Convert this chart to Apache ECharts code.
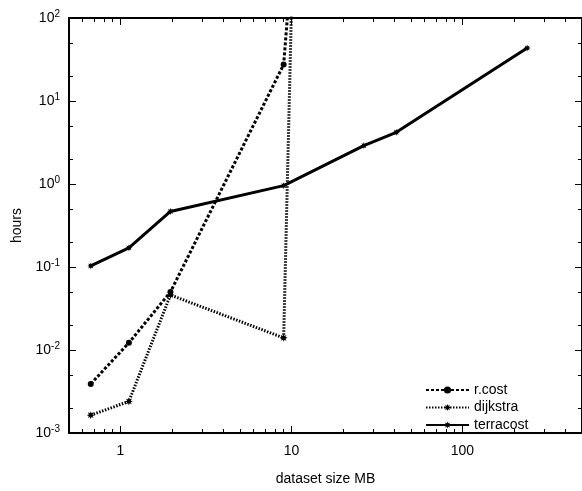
<!DOCTYPE html>
<html>
<head>
<meta charset="utf-8">
<script src="https://cdn.jsdelivr.net/npm/echarts@6/dist/echarts.min.js"></script>
<style>
html,body{margin:0;padding:0;background:#fff;}
#chart{width:582px;height:491px;}
</style>
</head>
<body>
<div id="chart"></div>
<script>
// ---- data ----
var rcostX = [0.67, 1.12, 1.96, 9.0, 10.0];
var rcostY = [0.0039, 0.0122, 0.050, 27.5, 420];
var dijkstraX = [0.67, 1.12, 1.96, 9.0, 10.0];
var dijkstraY = [0.00164, 0.0024, 0.046, 0.014, 130];
var terracostX = [0.67, 1.12, 1.96, 9.0, 26.5, 41, 239];
var terracostY = [0.103, 0.17, 0.467, 0.955, 2.9, 4.2, 43.5];
var seriesNames = ['r.cost', 'dijkstra', 'terracost'];
var xMajorTicks = [1, 10, 100];
var xMinorTicks = [0.6, 0.7, 0.8, 0.9, 2, 3, 4, 5, 6, 7, 8, 9, 20, 30, 40, 50, 60, 70, 80, 90, 200, 300, 400];
var yMajorTicks = [0.001, 0.01, 0.1, 1, 10, 100];
var yMinorTicks = [0.002, 0.005, 0.02, 0.05, 0.2, 0.5, 2, 5, 20, 50];
var xRange = [0.5, 500];
var yRange = [0.001, 100];

function pairs(xs, ys) { return xs.map(function (x, i) { return [x, ys[i]]; }); }

function starPath(n, r1, r2) {
  var s = 'path://';
  for (var i = 0; i < 2 * n; i++) {
    var r = i % 2 === 0 ? r1 : r2;
    var a = Math.PI * i / n - Math.PI / 2;
    s += (i === 0 ? 'M' : 'L') + (r * Math.cos(a)).toFixed(3) + ' ' + (r * Math.sin(a)).toFixed(3) + ' ';
  }
  return s + 'Z';
}
var starSym = starPath(8, 10, 5);

var font = 'Liberation Sans, Arial, Helvetica, sans-serif';
var black = '#000';

function xAxisDef(pos, major, showLine, showLabel, name) {
  return {
    type: 'log', logBase: 10, min: xRange[0], max: xRange[1], position: pos,
    gridIndex: 0,
    axisLine: { show: showLine, lineStyle: { color: black, width: 2 } },
    axisTick: { show: true, inside: true, length: major ? 7 : 4,
      customValues: major ? xMajorTicks : xMinorTicks,
      lineStyle: { color: black, width: 1 } },
    axisLabel: { show: showLabel, customValues: xMajorTicks, color: black, fontSize: 14, fontFamily: font, margin: 11,
      formatter: function (v) { return String(Math.round(v)); } },
    splitLine: { show: false }, minorTick: { show: false },
    name: name || '', nameLocation: 'middle', nameGap: 39,
    nameTextStyle: { color: black, fontSize: 14, fontFamily: font }
  };
}
function yAxisDef(pos, major, showLine, showLabel, name) {
  return {
    type: 'log', logBase: 10, min: yRange[0], max: yRange[1], position: pos,
    gridIndex: 0,
    axisLine: { show: showLine, lineStyle: { color: black, width: 2 } },
    axisTick: { show: true, inside: true, length: major ? 7 : 4,
      customValues: major ? yMajorTicks : yMinorTicks,
      lineStyle: { color: black, width: 1 } },
    axisLabel: { show: showLabel, customValues: yMajorTicks, color: black, fontSize: 14, fontFamily: font, margin: 9,
      formatter: function (v) { return '10{sup|' + Math.round(Math.log10(v)) + '}'; },
      rich: { sup: { fontSize: 10, fontFamily: font, color: black, verticalAlign: 'bottom', padding: [0, 0, 8, 0] } } },
    splitLine: { show: false }, minorTick: { show: false },
    name: name || '', nameLocation: 'middle', nameGap: 44,
    nameTextStyle: { color: black, fontSize: 14, fontFamily: font }
  };
}

var chart = echarts.init(document.getElementById('chart'), null, { renderer: 'canvas' });
chart.setOption({
  animation: false,
  backgroundColor: '#fff',
  grid: { left: 69, top: 18, width: 515, height: 419, containLabel: false, show: false },
  xAxis: [
    xAxisDef('bottom', true, true, true, 'dataset size MB'),
    xAxisDef('bottom', false, false, false),
    xAxisDef('top', true, true, false),
    xAxisDef('top', false, false, false)
  ],
  yAxis: [
    yAxisDef('left', true, true, true, 'hours'),
    yAxisDef('left', false, false, false),
    yAxisDef('right', true, true, false),
    yAxisDef('right', false, false, false)
  ],
  legend: {
    orient: 'vertical', left: 420, top: 378, itemWidth: 43, itemHeight: 9, itemGap: 3.5,
    textStyle: { color: black, fontSize: 14, fontFamily: font },
    data: seriesNames
  },
  series: [
    { name: seriesNames[0], type: 'line', data: pairs(rcostX, rcostY), xAxisIndex: 0, yAxisIndex: 0,
      symbol: 'circle', symbolSize: 6, itemStyle: { color: black },
      lineStyle: { color: black, width: 3, type: [3, 2] }, clip: true },
    { name: seriesNames[1], type: 'line', data: pairs(dijkstraX, dijkstraY), xAxisIndex: 0, yAxisIndex: 0,
      symbol: starSym, symbolSize: 8, itemStyle: { color: black },
      lineStyle: { color: black, width: 3, type: [1.5, 1.5] }, clip: true },
    { name: seriesNames[2], type: 'line', data: pairs(terracostX, terracostY), xAxisIndex: 0, yAxisIndex: 0,
      symbol: starSym, symbolSize: 7, itemStyle: { color: black },
      lineStyle: { color: black, width: 3 }, clip: true }
  ]
});
</script>
</body>
</html>
